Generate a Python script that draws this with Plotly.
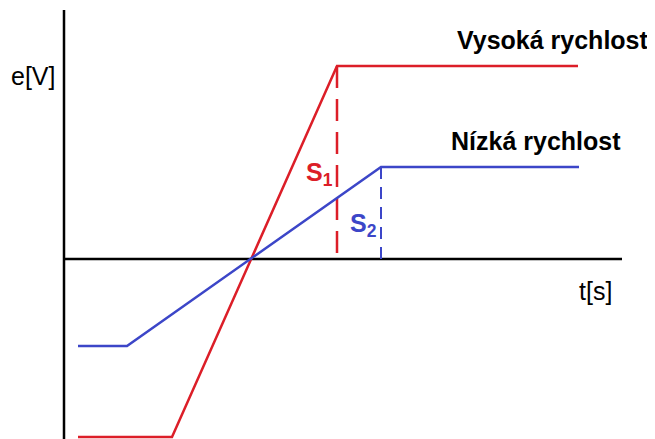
import plotly.graph_objects as go

# data (origin at the crossing point, units arbitrary)
red_t = [-173, -79, 86, 327]
red_e = [-178, -178, 193, 193]
blue_t = [-173, -124, 130, 328]
blue_e = [-87, -87, 92, 92]

RED = "#dc1e28"
BLUE = "#3c46c8"
FONT = "Liberation Sans, Arial, sans-serif"

fig = go.Figure()

# axes
fig.add_trace(go.Scatter(x=[-187, -187], y=[249, -182], mode="lines",
                         line=dict(color="black", width=2.5), hoverinfo="skip"))
fig.add_trace(go.Scatter(x=[-187, 371], y=[0, 0], mode="lines",
                         line=dict(color="black", width=2.5), hoverinfo="skip"))

# dashed drops
fig.add_trace(go.Scatter(x=[red_t[2], red_t[2]], y=[red_e[2], 0], mode="lines",
                         line=dict(color=RED, width=2.5, dash="22px,11px"), hoverinfo="skip"))
fig.add_trace(go.Scatter(x=[blue_t[2], blue_t[2]], y=[blue_e[2], 0], mode="lines",
                         line=dict(color=BLUE, width=2, dash="12px,8px"), hoverinfo="skip"))

# curves
fig.add_trace(go.Scatter(x=red_t, y=red_e, mode="lines",
                         line=dict(color=RED, width=2.5), hoverinfo="skip"))
fig.add_trace(go.Scatter(x=blue_t, y=blue_e, mode="lines",
                         line=dict(color=BLUE, width=2.5), hoverinfo="skip"))

ann = [
    dict(x=-194, y=183, text="e[V]", xanchor="right", yanchor="middle",
         font=dict(size=25, color="black", family=FONT)),
    dict(x=344, y=-32, text="t[s]", xanchor="center", yanchor="middle",
         font=dict(size=25, color="black", family=FONT)),
    dict(x=400, y=219, text="<b>Vysoká rychlost</b>", xanchor="right", yanchor="middle",
         font=dict(size=25, color="black", family=FONT)),
    dict(x=372, y=118, text="<b>Nízká rychlost</b>", xanchor="right", yanchor="middle",
         font=dict(size=25, color="black", family=FONT)),
    dict(x=53, y=85, text="<b>S<sub>1</sub></b>", xanchor="left", yanchor="middle",
         font=dict(size=25, color=RED, family=FONT)),
    dict(x=97, y=34, text="<b>S<sub>2</sub></b>", xanchor="left", yanchor="middle",
         font=dict(size=25, color=BLUE, family=FONT)),
]
for a in ann:
    a.update(showarrow=False, xref="x", yref="y")

fig.update_layout(
    width=655, height=439,
    margin=dict(l=0, r=0, t=0, b=0),
    paper_bgcolor="white", plot_bgcolor="white",
    showlegend=False,
    annotations=ann,
    xaxis=dict(range=[-243, 412], visible=False, fixedrange=True),
    yaxis=dict(range=[-188, 251], visible=False, fixedrange=True),
)

fig.write_html("out.html")
